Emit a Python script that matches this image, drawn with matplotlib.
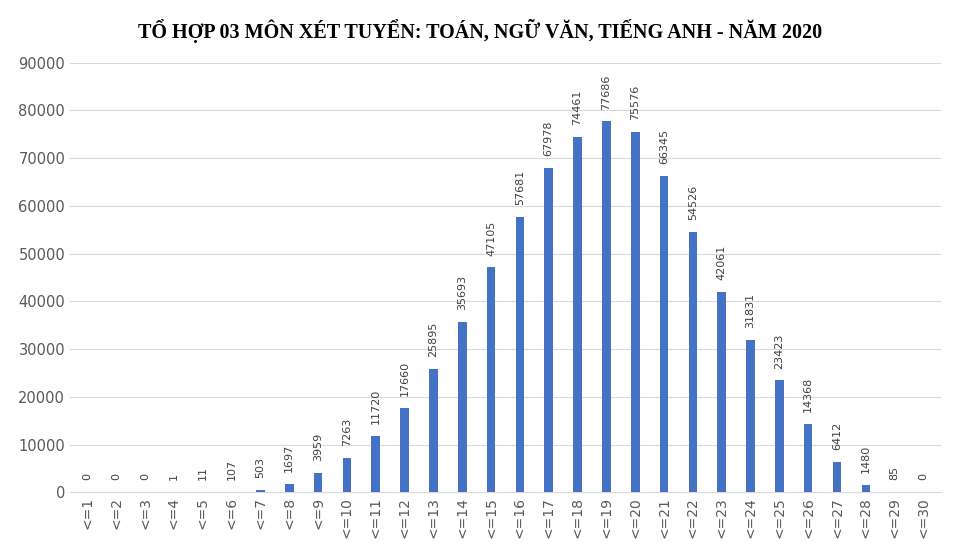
import matplotlib.pyplot as plt

categories = [f"<={i}" for i in range(1, 31)]
values = [0, 0, 0, 1, 11, 107, 503, 1697, 3959, 7263, 11720, 17660, 25895, 35693,
          47105, 57681, 67978, 74461, 77686, 75576, 66345, 54526, 42061, 31831,
          23423, 14368, 6412, 1480, 85, 0]
title = "TỔ HỢP 03 MÔN XÉT TUYỂN: TOÁN, NGỮ VĂN, TIẾNG ANH - NĂM 2020"

fig = plt.figure(figsize=(9.6, 5.6), dpi=100)
ax = fig.add_axes([0.073, 0.121, 0.907, 0.767])
x = range(len(categories))
ax.bar(x, values, width=0.3, color="#4472C4", zorder=3)
for i, v in zip(x, values):
    ax.text(i, v + 2500, str(v), rotation=90, ha="center", va="bottom",
            fontsize=8, color="#404040")
ax.set_ylim(0, 90000)
ax.set_xlim(-0.6, len(categories) - 0.4)
ax.set_yticks(range(0, 90001, 10000))
ax.set_xticks(list(x))
ax.set_xticklabels(categories, rotation=90, fontsize=10, color="#595959")
ax.tick_params(axis="y", labelsize=10.5, colors="#595959", length=0)
ax.tick_params(axis="x", length=0)
ax.grid(axis="y", color="#D9D9D9", zorder=0)
for s in ["top", "right", "left"]:
    ax.spines[s].set_visible(False)
ax.spines["bottom"].set_color("#D9D9D9")
fig.text(0.5, 0.945, title, ha="center", va="center", fontsize=14.5,
         fontweight="bold", family="Liberation Serif")
fig.savefig("out.png")
